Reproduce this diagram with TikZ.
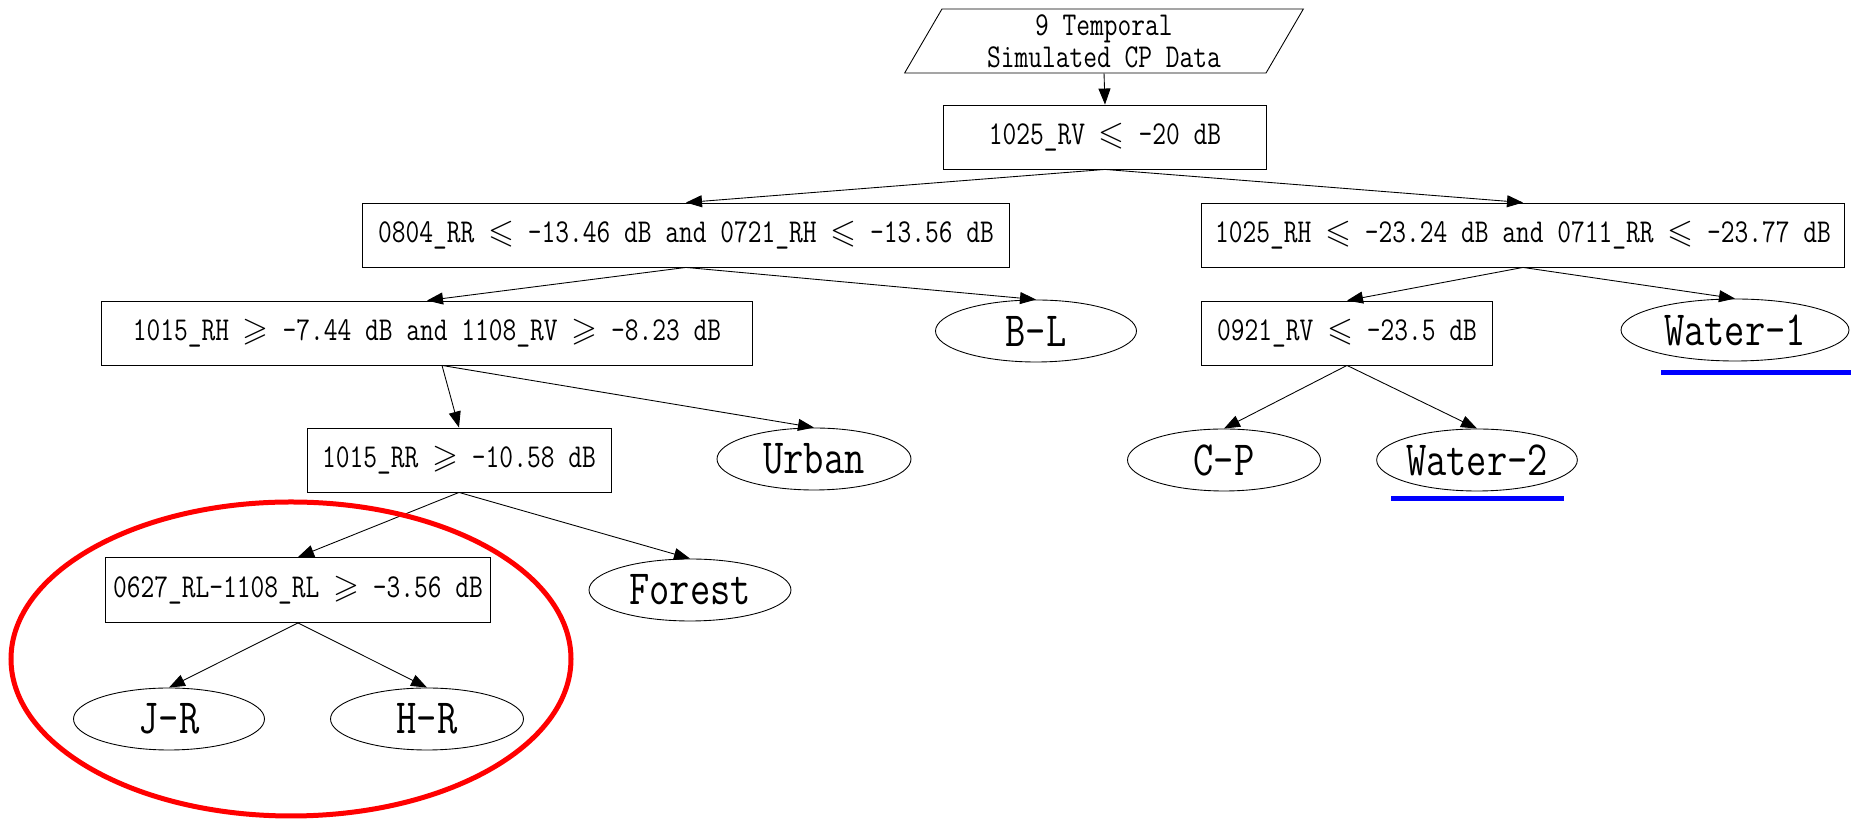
\documentclass[tikz,border=0pt]{standalone}
\usepackage{fontspec}
\usepackage{amssymb}
\setmonofont{Latin Modern Mono}[FakeStretch=0.8]
\usetikzlibrary{shapes.geometric,arrows.meta}
\tikzset{
  condbox/.style={draw, rectangle, line width=0.5pt, minimum height=1.28cm, inner sep=0pt,
    font=\ttfamily\fontsize{19}{19}\selectfont},
  classnode/.style={draw, ellipse, line width=0.5pt, minimum height=1.24cm, inner sep=0pt,
    font=\ttfamily\fontsize{28}{28}\selectfont},
  link/.style={line width=0.5pt, -{Triangle[length=3.2mm,width=2.4mm]}},
}

\begin{document}
\begin{tikzpicture}
\useasboundingbox (0,0) rectangle (37.02,16.4);
\node[draw, trapezium, trapezium left angle=63, trapezium right angle=117, trapezium stretches=true,
  minimum width=7.98cm, minimum height=1.28cm, inner sep=0pt, line width=0.5pt, align=center,
  font=\ttfamily\fontsize{19}{18}\selectfont] (data) at (22.08,15.58) {9 Temporal\\Simulated CP Data};
\node[condbox, minimum width=6.46cm] (root) at (22.1,13.66) {1025\_RV $\leqslant$ -20 dB};
\node[condbox, minimum width=12.94cm] (left) at (13.72,11.7) {0804\_RR $\leqslant$ -13.46 dB and 0721\_RH $\leqslant$ -13.56 dB};
\node[condbox, minimum width=12.86cm] (right) at (30.46,11.7) {1025\_RH $\leqslant$ -23.24 dB and 0711\_RR $\leqslant$ -23.77 dB};
\node[condbox, minimum width=13.02cm] (rhrv) at (8.54,9.74) {1015\_RH $\geqslant$ -7.44 dB and 1108\_RV $\geqslant$ -8.23 dB};
\node[classnode, minimum width=4.02cm] (bl) at (20.72,9.78) {B-L};
\node[condbox, minimum width=5.82cm] (rv) at (26.94,9.74) {0921\_RV $\leqslant$ -23.5 dB};
\node[classnode, minimum width=4.56cm] (water1) at (34.7,9.8) {Water-1};
\node[condbox, minimum width=6.08cm] (rr) at (9.18,7.2) {1015\_RR $\geqslant$ -10.58 dB};
\node[classnode, minimum width=3.88cm] (urban) at (16.28,7.22) {Urban};
\node[classnode, minimum width=3.86cm] (cp) at (24.48,7.2) {C-P};
\node[classnode, minimum width=3.92cm] (water2) at (29.54,7.2) {Water-2};
\node[condbox, minimum width=7.7cm, minimum height=1.3cm] (rl) at (5.96,4.6) {0627\_RL-1108\_RL $\geqslant$ -3.56 dB};
\node[classnode, minimum width=4.04cm] (forest) at (13.8,4.6) {Forest};
\node[classnode, minimum width=3.82cm] (jr) at (3.38,2.02) {J-R};
\node[classnode, minimum width=3.86cm] (hr) at (8.54,2.02) {H-R};

\draw[link] (data.south) -- (root.north);
\draw[link] (root.south) -- (left.north);
\draw[link] (root.south) -- (right.north);
\draw[link] (left.south) -- (rhrv.north);
\draw[link] (left.south) -- (bl.north);
\draw[link] (right.south) -- (rv.north);
\draw[link] (right.south) -- (water1.north);
\draw[link] ([xshift=0.3cm]rhrv.south) -- (rr.north);
\draw[link] ([xshift=0.3cm]rhrv.south) -- (urban.north);
\draw[link] (rv.south) -- (cp.north);
\draw[link] (rv.south) -- (water2.north);
\draw[link] (rr.south) -- (rl.north);
\draw[link] (rr.south) -- (forest.north);
\draw[link] (rl.south) -- (jr.north);
\draw[link] (rl.south) -- (hr.north);

\draw[red, line width=0.1cm] (5.82,3.22) ellipse [x radius=5.6, y radius=3.14];
\draw[blue, line width=0.1cm] (33.22,8.94) -- (37.02,8.94);
\draw[blue, line width=0.1cm] (27.82,6.42) -- (31.28,6.42);
\end{tikzpicture}
\end{document}
